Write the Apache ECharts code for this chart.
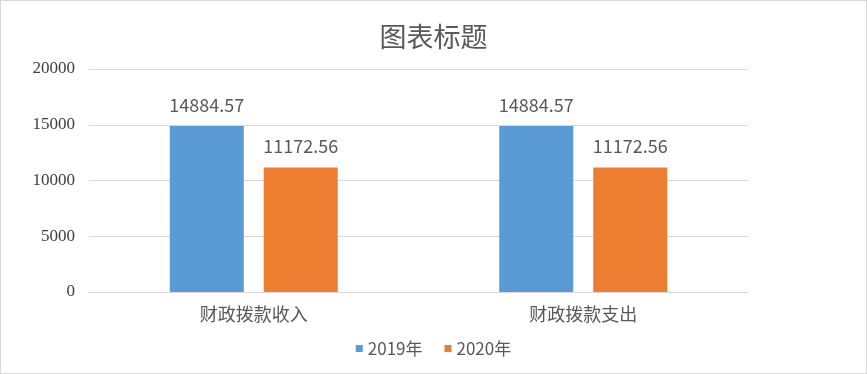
<!DOCTYPE html>
<html><head><meta charset="utf-8">
<script src="https://cdn.jsdelivr.net/npm/echarts@6/dist/echarts.min.js"></script>
<style>html,body{margin:0;padding:0;background:#fff;}
#c{position:absolute;left:0;top:0;width:865px;height:372px;border:1px solid #d9d9d9;}</style>
</head><body><div id="c"></div>
<script>
const categories = ['财政拨款收入', '财政拨款支出'];
const seriesNames = ['2019年', '2020年'];
const values2019 = [14884.57, 14884.57];
const values2020 = [11172.56, 11172.56];
const yTicks = [0, 5000, 10000, 15000, 20000];
const colors = ['#5b9bd5', '#ed7d31'];

const chart = echarts.init(document.getElementById('c'));
const labelStyle = {show: true, position: 'top', distance: 12, color: '#595959', fontSize: 18, fontFamily: 'Noto Sans CJK SC, sans-serif'};
chart.setOption({
  animation: false,
  title: {text: '图表标题', left: 'center', top: 17, textStyle: {color: '#595959', fontSize: 27, fontWeight: 'normal', fontFamily: 'Noto Sans CJK SC'}},
  legend: {bottom: 11, left: 'center', itemWidth: 7, itemHeight: 7, itemGap: 22, icon: 'rect',
    textStyle: {color: '#595959', fontSize: 17, fontFamily: 'Noto Sans CJK SC'}, data: seriesNames},
  grid: {left: 88, right: 118, top: 68, bottom: 81},
  xAxis: {type: 'category', data: categories,
    axisLine: {lineStyle: {color: '#d9d9d9'}}, axisTick: {show: false},
    axisLabel: {color: '#595959', fontSize: 18, margin: 13, fontFamily: 'Noto Sans CJK SC'}},
  yAxis: {type: 'value', min: yTicks[0], max: yTicks[yTicks.length-1], interval: 5000,
    axisLine: {show: false}, axisTick: {show: false},
    splitLine: {lineStyle: {color: '#d9d9d9', width: 1}},
    axisLabel: {color: '#404040', fontSize: 17, margin: 14, fontFamily: 'Liberation Serif, serif', formatter: v => String(v)}},
  series: [
    {name: seriesNames[0], type: 'bar', data: values2019, barWidth: 74, barGap: '27%', itemStyle: {color: colors[0]}, label: labelStyle},
    {name: seriesNames[1], type: 'bar', data: values2020, barWidth: 74, itemStyle: {color: colors[1]}, label: labelStyle}
  ]
});
</script></body></html>
